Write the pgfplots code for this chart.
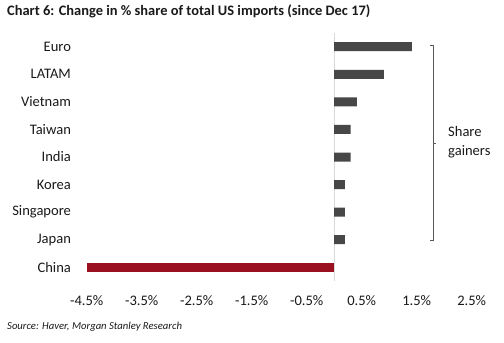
\documentclass[border=0pt]{standalone}
\usepackage{pgfplots}
\pgfplotsset{compat=1.18}
\usepackage{fontspec}
\setmainfont{Carlito}
\definecolor{bargray}{HTML}{474747}
\definecolor{barred}{HTML}{9B1020}
\definecolor{zerogray}{HTML}{D9D9D9}
\definecolor{bracketgray}{HTML}{595959}
\definecolor{textgray}{HTML}{1A1A1A}
\begin{document}
\begin{tikzpicture}[x=1bp,y=1bp]
\useasboundingbox (0,0) rectangle (504,342);
\fill[white] (0,0) rectangle (504,342);
\begin{axis}[
  at={(86.7bp,60.9bp)}, anchor=south west,
  scale only axis, width=385bp, height=248.2bp,
  xmin=-4.5, xmax=2.5, ymin=-0.5, ymax=8.5,
  axis line style={draw=none}, tick style={draw=none},
  xtick={-4.5,-3.5,-2.5,-1.5,-0.5,0.5,1.5,2.5},
  xticklabels={-4.5\%,-3.5\%,-2.5\%,-1.5\%,-0.5\%,0.5\%,1.5\%,2.5\%},
  ytick={0,1,2,3,4,5,6,7,8},
  yticklabels={China,Japan,Singapore,Korea,India,Taiwan,Vietnam\hspace{4bp},LATAM,Euro},
  ticklabel style={font=\fontsize{14.6}{18}\selectfont, text=textgray},
  xticklabel style={yshift=-10.5bp},
  yticklabel style={xshift=-8bp},
  xbar, bar width=9bp,
  clip=false,
]
\draw[zerogray, line width=0.8bp] (axis cs:0,-0.5) -- (axis cs:0,8.5);
\addplot[fill=bargray, draw=none, bar shift=0pt] coordinates {(1.41,8) (0.905,7) (0.41,6) (0.30,5) (0.30,4) (0.196,3) (0.196,2) (0.196,1)};
\addplot[fill=barred, draw=none, bar shift=0pt] coordinates {(-4.5,0)};
\end{axis}
\draw[bracketgray, line width=0.8bp] (430,297) -- (433.3,297) -- (433.3,101.3) -- (430,101.3);
\draw[bracketgray, line width=0.8bp] (433.3,199) -- (436.3,199);
\node[anchor=west, align=left, inner sep=0, text=textgray, font=\fontsize{14.6}{19}\selectfont] at (448,199.5) {Share\\gainers};
\node[anchor=base west, inner sep=0, text=textgray, font=\bfseries\fontsize{14.5}{18}\selectfont] at (7,327) {Chart 6: Change in \% share of total US imports (since Dec 17)};
\node[anchor=base west, inner sep=0, text=textgray, font=\itshape\fontsize{10.7}{13}\selectfont] at (7,12.7) {Source: Haver, Morgan Stanley Research};
\end{tikzpicture}
\end{document}
